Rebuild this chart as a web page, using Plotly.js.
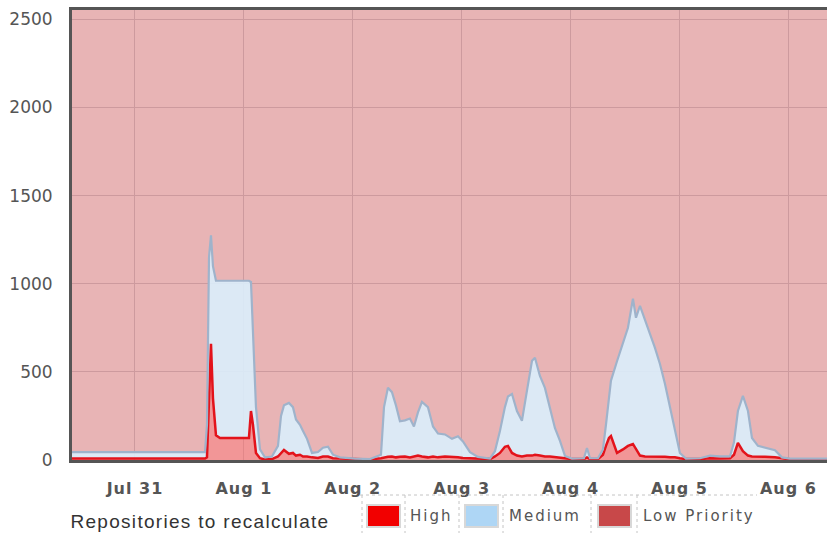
<!DOCTYPE html>
<html>
<head>
<meta charset="utf-8">
<script src="https://cdn.plot.ly/plotly-3.0.1.min.js"></script>
<style>
html,body{margin:0;padding:0;background:#fff;}
#chart{width:827px;height:533px;}
.xtick text{letter-spacing:1px;}
g.annotation text{letter-spacing:2px;}
g.annotation[data-index="3"] text{letter-spacing:1.3px;}
</style>
</head>
<body>
<div id="chart"></div>
<script>
// ---- data ----
const chartLabel = "Repositories to recalculate";
const seriesNames = ["High", "Medium", "Low Priority"];
const tickLabels = ["0", "500", "1000", "1500", "2000", "2500"];
const tickValues = [0, 500, 1000, 1500, 2000, 2500];

const times = [
"2013-07-30 10:07","2013-07-31 15:26","2013-07-31 15:52","2013-07-31 16:19","2013-07-31 16:45",
"2013-07-31 17:11","2013-07-31 17:51","2013-07-31 18:44","2013-07-31 22:02","2013-08-01 01:07",
"2013-08-01 01:34","2013-08-01 02:00","2013-08-01 02:40","2013-08-01 03:33","2013-08-01 04:39",
"2013-08-01 06:11","2013-08-01 07:31","2013-08-01 08:11","2013-08-01 08:50","2013-08-01 09:56",
"2013-08-01 10:49","2013-08-01 11:29","2013-08-01 12:22","2013-08-01 13:02","2013-08-01 13:55",
"2013-08-01 15:01","2013-08-01 16:20","2013-08-01 17:26","2013-08-01 18:32","2013-08-01 19:38",
"2013-08-01 21:11","2013-08-02 00:29","2013-08-02 03:47","2013-08-02 06:13","2013-08-02 06:53",
"2013-08-02 07:45","2013-08-02 08:38","2013-08-02 09:31","2013-08-02 10:24","2013-08-02 11:30",
"2013-08-02 12:36","2013-08-02 13:29","2013-08-02 14:22","2013-08-02 15:15","2013-08-02 16:34",
"2013-08-02 17:41","2013-08-02 18:47","2013-08-02 20:19","2013-08-02 21:52","2013-08-02 23:11",
"2013-08-03 00:17","2013-08-03 01:50","2013-08-03 03:35","2013-08-03 06:14","2013-08-03 07:20",
"2013-08-03 08:26","2013-08-03 09:32","2013-08-03 10:12","2013-08-03 11:05","2013-08-03 12:11",
"2013-08-03 13:17","2013-08-03 14:23","2013-08-03 15:30","2013-08-03 16:09","2013-08-03 17:15",
"2013-08-03 18:21","2013-08-03 19:27","2013-08-03 20:33","2013-08-03 21:40","2013-08-03 22:46",
"2013-08-04 00:18","2013-08-04 02:57","2013-08-04 03:37","2013-08-04 04:17","2013-08-04 06:02",
"2013-08-04 07:08","2013-08-04 07:48","2013-08-04 08:28","2013-08-04 08:54","2013-08-04 10:14",
"2013-08-04 11:33","2013-08-04 12:39","2013-08-04 13:45","2013-08-04 14:25","2013-08-04 15:18",
"2013-08-04 16:24","2013-08-04 17:30","2013-08-04 18:36","2013-08-04 19:42","2013-08-04 20:48",
"2013-08-04 21:54","2013-08-04 23:00","2013-08-05 00:06","2013-08-05 01:26","2013-08-05 04:31",
"2013-08-05 06:43","2013-08-05 08:56","2013-08-05 11:08","2013-08-05 12:01","2013-08-05 12:53",
"2013-08-05 13:59","2013-08-05 15:06","2013-08-05 15:59","2013-08-05 17:18","2013-08-05 18:51",
"2013-08-05 21:03","2013-08-05 22:35","2013-08-06 00:21","2013-08-06 08:31"
];

const high = [
8,8,15,300,659, 350,140,125,125,125, 278,200,40,10,3, 5,20,40,57,35,
40,25,30,20,20, 15,12,20,20,10, 8,5,3,10,15, 18,20,15,18,20,
15,20,25,20,15, 20,15,20,15,15, 12,10,8,5,20, 40,75,80,40,25,
20,25,25,30,25, 20,20,18,15,10, 5,5,15,5,5, 30,80,125,136,40,
60,80,91,60,25, 20,20,18,18,18, 15,15,10,5,5, 10,8,10,30,97,
50,25,20,20,18, 15,8,4,4
];

const medium = [
37,37,185,850,616, 750,877,892,892,892, 732,500,260,50,12, 15,60,210,253,289,
260,205,170,145,100, 25,33,50,55,20, 7,3,2,20,285, 392,365,295,202,205,
220,170,245,310,285, 170,135,125,105,120, 93,35,10,3,30, 125,225,280,335,253,
202,367,538,550,452, 389,275,164,93,13, 3,5,53,5,5, 30,120,225,314,520,
600,670,824,747,850, 770,696,618,527,414, 280,150,30,3,5, 15,12,10,70,181,
314,253,105,60,50, 40,7,4,4
];

const xRange = ["2013-07-30 10:07:12", "2013-08-06 08:31:00"];
const yRange = [0, 2553];

// ---- drawing ----
const traces = [
  {
    x: times, y: high, name: seriesNames[0], type: "scatter", mode: "lines",
    stackgroup: "q", line: {color: "#e3131b", width: 2.5, shape: "linear"},
    fillcolor: "rgba(255,110,110,0.42)", hoverinfo: "skip"
  },
  {
    x: times, y: medium, name: seriesNames[1], type: "scatter", mode: "lines",
    stackgroup: "q", line: {color: "#9fb3cb", width: 2.2, shape: "linear"},
    fillcolor: "rgba(218,238,252,0.9)", hoverinfo: "skip"
  }
];

// legend geometry in pixels -> paper coords
const L = 72, R = 827, T = 10, B = 460;
const px = v => (v - L) / (R - L);
const py = v => (B - v) / (B - T);

const legendBoxes = [
  {x0: 367, x1: 400, color: "#f20000", tx: 412},
  {x0: 465, x1: 498, color: "#aed6f5", tx: 513},
  {x0: 598, x1: 631, color: "#c84849", tx: 653}
];
const shapes = [];
const annotations = [];
legendBoxes.forEach((b, i) => {
  shapes.push({type: "rect", xref: "paper", yref: "paper",
    x0: px(b.x0), x1: px(b.x1), y0: py(527), y1: py(505),
    fillcolor: b.color, line: {color: "#d8d8d8", width: 2}});
  annotations.push({xref: "paper", yref: "paper", x: px(b.tx), y: py(516),
    xanchor: "left", yanchor: "middle", showarrow: false, text: seriesNames[i],
    font: {family: "DejaVu Sans", size: 15, color: "#555"}});
});
// dotted legend separators
const dotStyle = {color: "#c4c4c4", width: 1, dash: "dot"};
shapes.push({type: "line", xref: "paper", yref: "paper", x0: px(360), x1: px(757), y0: py(495), y1: py(495), line: dotStyle});
[362, 405, 459, 503, 591, 637].forEach(v => {
  shapes.push({type: "line", xref: "paper", yref: "paper", x0: px(v), x1: px(v), y0: py(495), y1: py(533), line: dotStyle});
});
annotations.push({xref: "paper", yref: "paper", x: px(86), y: py(521),
  xanchor: "left", yanchor: "middle", showarrow: false, text: chartLabel,
  font: {family: "Liberation Sans, Arial, sans-serif", size: 19, color: "#333"}});

const layout = {
  width: 827, height: 533,
  margin: {l: 72, r: 0, t: 10, b: 73, pad: 0},
  paper_bgcolor: "#ffffff",
  plot_bgcolor: "#e8b4b5",
  showlegend: false,
  hovermode: false,
  xaxis: {
    type: "date", range: xRange,
    tick0: "2013-07-31", dtick: 86400000, tickformat: "%b %-d",
    showgrid: true, gridcolor: "#cd9a9e", gridwidth: 1,
    showline: true, linecolor: "#555", linewidth: 3, mirror: true,
    ticks: "", ticklabelstandoff: 12,
    tickfont: {family: "DejaVu Sans", size: 16, color: "#555", weight: "bold"},
    fixedrange: true
  },
  yaxis: {
    range: yRange, tickvals: tickValues, ticktext: tickLabels,
    showgrid: true, gridcolor: "#cd9a9e", gridwidth: 1,
    zeroline: false,
    showline: true, linecolor: "#555", linewidth: 3,
    ticks: "", ticklabelstandoff: 13,
    tickfont: {family: "DejaVu Sans", size: 17, color: "#555"},
    fixedrange: true
  },
  shapes: shapes,
  annotations: annotations
};

Plotly.newPlot("chart", traces, layout, {displayModeBar: false, staticPlot: true});
</script>
</body>
</html>
